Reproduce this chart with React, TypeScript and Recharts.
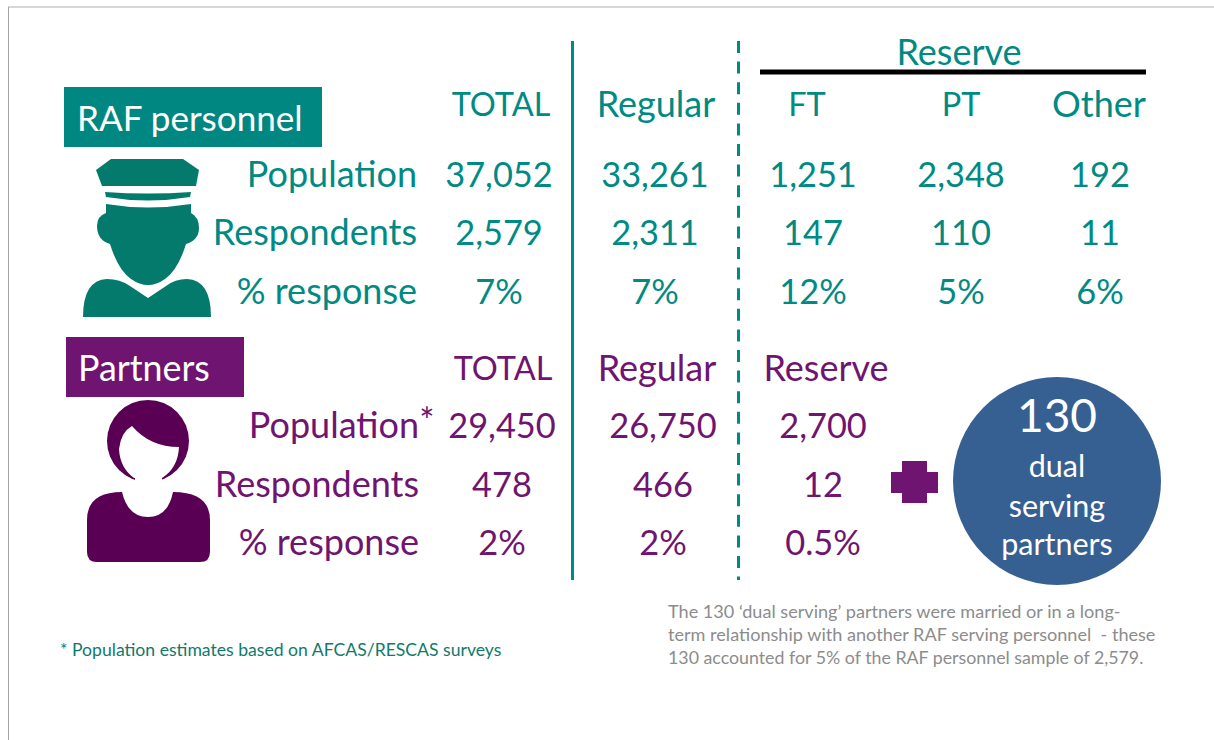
import React from "react";
import { ScatterChart, Scatter, XAxis, YAxis, ReferenceLine, ReferenceArea, ReferenceDot } from "recharts";

// ---- Data ----
const rafColumns = ["TOTAL", "Regular", "FT", "PT", "Other"];
const rafRows = ["Population", "Respondents", "% response"];
const rafPopulation = [37052, 33261, 1251, 2348, 192];
const rafRespondents = [2579, 2311, 147, 110, 11];
const rafResponse = [7, 7, 12, 5, 6];
const partnerColumns = ["TOTAL", "Regular", "Reserve"];
const partnerRows = ["Population", "Respondents", "% response"];
const partnerPopulation = [29450, 26750, 2700];
const partnerRespondents = [478, 466, 12];
const partnerResponse = [2, 2, 0.5];
const dualCount = 130;
const dualLabel = ["dual", "serving", "partners"];
const footnote = "* Population estimates based on AFCAS/RESCAS surveys";
const dualNote = [
  "The 130 \u2018dual serving\u2019 partners were married or in a long-",
  "term relationship with another RAF serving personnel  - these",
  "130 accounted for 5% of the RAF personnel sample of 2,579.",
];

// ---- Layout and style ----
const W = 1214;
const H = 740;
const FONT = "Lato, Carlito, sans-serif";
const TEAL = "#008a84";
const TEAL_DARK = "#047a6c";
const PURPLE = "#6f1470";
const PURPLE_DARK = "#590054";
const BLUE = "#376092";
const GREY = "#8c8c8c";

// Lato's proportions differ from the reference face: capitals and digits run wide, so each kind gets its own size.
const sizeFor = (text: string) => {
  if (/^[A-Z]+$/.test(text)) return 32.5;
  if (/^[\d,.%]+$/.test(text)) return 34.4;
  return 36;
};

const rafHeaderX = [501, 656, 807, 961, 1099];
const rafValueX = [499, 655, 813, 961, 1100];
const rafRowY = [174, 232, 291];
const partnerHeaderX = [503, 657, 826];
const partnerValueX = [502, 663, 823];
const partnerRowY = [425, 484, 542];
const noteY = [612, 635, 658];

const num = (v: number) => v.toLocaleString("en-GB");
const pct = (v: number) => `${v}%`;

type Cell = { x: number; y: number; text: string; anchor?: string };

const tableCells = (
  columnsX: number[],
  rowY: number[],
  labelX: number,
  labels: string[],
  rows: string[][]
): Cell[] => {
  const out: Cell[] = [];
  labels.forEach((l, r) => out.push({ x: labelX, y: rowY[r], text: l, anchor: "end" }));
  rows.forEach((row, r) => row.forEach((t, c) => out.push({ x: columnsX[c], y: rowY[r], text: t })));
  return out;
};

const rafCells: Cell[] = [
  ...rafColumns.map((t, i) => ({ x: rafHeaderX[i], y: 104, text: t })),
  { x: 959, y: 52, text: "Reserve" },
  ...tableCells(rafValueX, rafRowY, 417, rafRows, [
    rafPopulation.map(num),
    rafRespondents.map(num),
    rafResponse.map(pct),
  ]),
];
const partnerCells: Cell[] = [
  ...partnerColumns.map((t, i) => ({ x: partnerHeaderX[i], y: 368, text: t })),
  ...tableCells(partnerValueX, partnerRowY, 419, partnerRows, [
    partnerPopulation.map(num),
    partnerRespondents.map(num),
    partnerResponse.map(pct),
  ]),
  { x: 427, y: 421, text: "*" },
];

const textShape = (size: number | null, color: string) => (props: any) => {
  const p = props.payload as Cell;
  return (
    <text
      x={props.cx}
      y={props.cy - 1}
      fill={color}
      fontFamily={FONT}
      fontSize={size ?? sizeFor(p.text)}
      textAnchor={p.anchor ?? "middle"}
      dominantBaseline="central"
      style={{ whiteSpace: "pre" }}
    >
      {p.text}
    </text>
  );
};

const OfficerIcon = (props: any) => (
  <g transform={`translate(${props.cx - 147},${props.cy - 238})`} fill={TEAL_DARK}>
    <path d="M111,159 L183,159 L199,170 L196,186 L102,186 L96,170 Z" />
    <path d="M105,192 Q148,195 191,192 L190,197 Q148,204 106,197 Z" />
    <path d="M106,204 Q148,211 191,204 L191,213 Q199,217 199,228 Q199,240 186,244 Q178,270 165,279 Q148,291 131,279 Q118,270 110,244 Q97,240 97,226 Q97,216 106,213 Z" />
    <path d="M83,317 Q83,280 107,279 Q120,279 130,286 L148,298 L166,286 Q175,279 187,279 Q211,280 211,317 Z" />
  </g>
);

const PartnerIcon = (props: any) => (
  <g transform={`translate(${props.cx - 148},${props.cy - 481})`}>
    <circle cx={148} cy={441} r={41} fill={PURPLE_DARK} />
    <path
      d="M119,449 Q121,432 132,426 Q150,447 179,447 Q178,468 162,478 L134,478 Q120,468 119,449 Z"
      fill="#fff"
    />
    <rect x={135} y={474} width={27} height={12} fill="#fff" />
    <path
      d="M87,552 L87,520 Q87,492 122,492 Q128,517 148,517 Q168,517 173,492 Q210,492 210,520 L210,552 Q210,562 200,562 L97,562 Q87,562 87,552 Z"
      fill={PURPLE_DARK}
    />
  </g>
);

export default function App() {
  return (
    <div style={{ position: "absolute", left: 0, top: 0, width: W, height: H, background: "#fff", overflow: "hidden" }}>
      <ScatterChart width={W} height={H} margin={{ top: 0, right: 0, bottom: 0, left: 0 }}>
        <XAxis type="number" dataKey="x" domain={[0, W]} hide />
        <YAxis type="number" dataKey="y" domain={[0, H]} reversed hide />

        {/* frame */}
        <ReferenceLine segment={[{ x: 8, y: 7 }, { x: W, y: 7 }]} stroke="#c9c9c9" strokeWidth={1.5} />
        <ReferenceLine segment={[{ x: 8.5, y: 7 }, { x: 8.5, y: H }]} stroke="#a3a3a3" strokeWidth={1} />

        {/* dividers */}
        <ReferenceLine segment={[{ x: 572.5, y: 41 }, { x: 572.5, y: 580 }]} stroke={TEAL} strokeWidth={3} />
        <ReferenceLine segment={[{ x: 738.5, y: 41 }, { x: 738.5, y: 580 }]} stroke={TEAL} strokeWidth={3} strokeDasharray="12 8.6" />
        <ReferenceLine segment={[{ x: 760, y: 72 }, { x: 1146, y: 72 }]} stroke="#000" strokeWidth={5} />

        {/* section headers */}
        <ReferenceArea x1={64} x2={322} y1={87} y2={147} fill="#008781" fillOpacity={1} stroke="none" />
        <ReferenceArea x1={66} x2={244} y1={337} y2={397} fill={PURPLE} fillOpacity={1} stroke="none" />

        {/* plus sign and dual-serving circle */}
        <ReferenceArea x1={891} x2={938} y1={472} y2={493} fill={PURPLE} fillOpacity={1} stroke="none" />
        <ReferenceArea x1={902} x2={927} y1={461} y2={503} fill={PURPLE} fillOpacity={1} stroke="none" />
        <ReferenceDot x={1057} y={481} r={104} fill={BLUE} stroke="none" />

        <Scatter data={[{ x: 147, y: 238 }]} shape={OfficerIcon} isAnimationActive={false} />
        <Scatter data={[{ x: 148, y: 481 }]} shape={PartnerIcon} isAnimationActive={false} />

        <Scatter data={rafCells} shape={textShape(null, TEAL)} isAnimationActive={false} />
        <Scatter data={partnerCells} shape={textShape(null, PURPLE)} isAnimationActive={false} />
        <Scatter data={[{ x: 77, y: 118, text: "RAF personnel", anchor: "start" }]} shape={textShape(35.1, "#fff")} isAnimationActive={false} />
        <Scatter data={[{ x: 78, y: 368, text: "Partners", anchor: "start" }]} shape={textShape(35.8, "#fff")} isAnimationActive={false} />
        <Scatter data={[{ x: 1057, y: 415, text: String(dualCount) }]} shape={textShape(46, "#fff")} isAnimationActive={false} />
        <Scatter
          data={dualLabel.map((t, i) => ({ x: 1057, y: [466, 506, 544][i], text: t }))}
          shape={textShape(30.5, "#fff")}
          isAnimationActive={false}
        />
        <Scatter data={[{ x: 60, y: 650, text: footnote, anchor: "start" }]} shape={textShape(17.6, "#0f7a6c")} isAnimationActive={false} />
        <Scatter
          data={dualNote.slice(0, 2).map((t, i) => ({ x: 668, y: noteY[i], text: t, anchor: "start" }))}
          shape={textShape(18.1, GREY)}
          isAnimationActive={false}
        />
        <Scatter data={[{ x: 668, y: noteY[2], text: dualNote[2], anchor: "start" }]} shape={textShape(17.8, GREY)} isAnimationActive={false} />
      </ScatterChart>
    </div>
  );
}
